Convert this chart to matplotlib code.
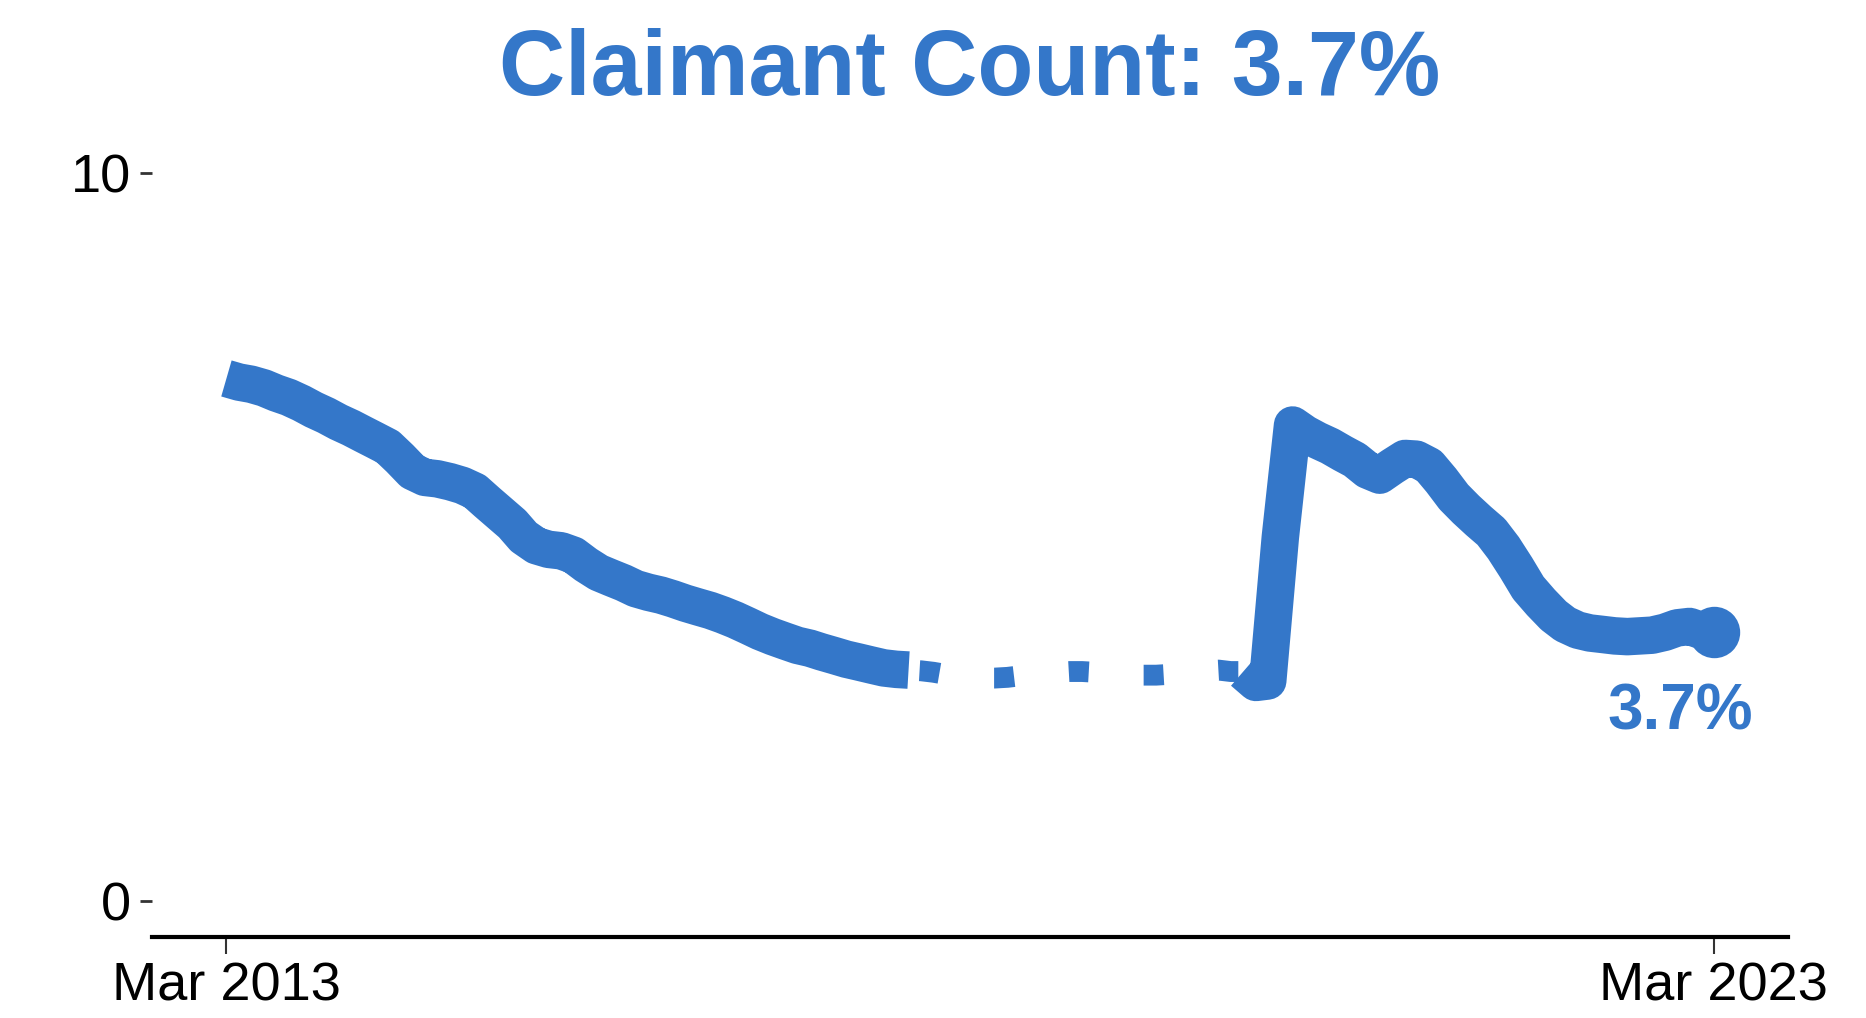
import matplotlib
matplotlib.use("Agg")
import matplotlib.pyplot as plt
import matplotlib.dates as mdates
import pandas as pd

# ---- data (claimant count rate, %) ----
start_solid1 = "2013-03-01"
values_solid1 = [7.18, 7.13, 7.10, 7.05, 6.98, 6.92, 6.84, 6.75, 6.67, 6.58,
                 6.50, 6.41, 6.33, 6.24, 6.08, 5.90, 5.82, 5.80, 5.76, 5.71,
                 5.63, 5.48, 5.33, 5.18, 5.00, 4.88, 4.83, 4.81, 4.75, 4.62,
                 4.51, 4.44, 4.37, 4.29, 4.24, 4.20, 4.15, 4.09, 4.04, 3.99,
                 3.93, 3.86, 3.78, 3.70, 3.63, 3.57, 3.51, 3.47, 3.42, 3.37,
                 3.32, 3.28, 3.24, 3.20, 3.18, 3.17]

start_dotted = "2017-10-01"
values_dotted = [3.17, 3.16, 3.14, 3.11, 3.09, 3.07, 3.06, 3.06, 3.07, 3.09,
                 3.11, 3.13, 3.14, 3.15, 3.15, 3.14, 3.12, 3.11, 3.10, 3.10,
                 3.10, 3.11, 3.12, 3.14, 3.16, 3.17, 3.15, 3.15]

start_solid2 = "2020-01-01"
values_solid2 = [3.15, 3.00, 3.02, 5.00, 6.54, 6.42, 6.33, 6.25, 6.15, 6.06,
                 5.92, 5.85, 5.97, 6.08, 6.07, 5.98, 5.78, 5.55, 5.38, 5.22,
                 5.07, 4.85, 4.58, 4.30, 4.10, 3.92, 3.80, 3.72, 3.68, 3.66,
                 3.64, 3.63, 3.64, 3.65, 3.69, 3.75, 3.77, 3.71, 3.70]

title_text = "Claimant Count: 3.7%"
last_label = "3.7%"
x_tick_dates = ["2013-03-01", "2023-03-01"]
x_tick_labels = ["Mar 2013", "Mar 2023"]
y_ticks = [0, 10]
y_tick_labels = ["0", "10"]

# ---- styling ----
BLUE = "#3477c9"
plt.rcParams["font.family"] = ["Liberation Sans", "DejaVu Sans"]

fig = plt.figure(figsize=(18.66, 10.18), dpi=100)
ax = fig.add_axes([0.0815, 0.0796, 0.8767, 0.7858])

d1 = pd.date_range(start_solid1, periods=len(values_solid1), freq="MS")
dd = pd.date_range(start_dotted, periods=len(values_dotted), freq="MS")
d2 = pd.date_range(start_solid2, periods=len(values_solid2), freq="MS")

LW = 27
ax.plot(dd, values_dotted, color=BLUE, lw=15,
        linestyle=(3.07, (0.96, 2.64)), dash_capstyle="butt", zorder=2)
ax.plot(d1, values_solid1, color=BLUE, lw=LW, solid_capstyle="butt",
        solid_joinstyle="round", zorder=3)
ax.plot(d2, values_solid2, color=BLUE, lw=LW, solid_capstyle="butt",
        solid_joinstyle="round", zorder=3)
ax.plot([d2[-1]], [values_solid2[-1]], "o", color=BLUE, markersize=37,
        markeredgewidth=0, zorder=4)

ax.annotate(last_label, xy=(d2[-1], values_solid2[-1]), xytext=(-24, -58),
            textcoords="offset points", ha="center", va="center",
            fontsize=46, fontweight="bold", color=BLUE)

# axes range with 5% expansion
t0 = mdates.date2num(pd.Timestamp(x_tick_dates[0]))
t1 = mdates.date2num(pd.Timestamp(x_tick_dates[1]))
span = t1 - t0
ax.set_xlim(t0 - 0.05 * span, t1 + 0.05 * span)
ax.set_ylim(-0.5, 10.5)

ax.set_xticks([mdates.date2num(pd.Timestamp(s)) for s in x_tick_dates])
ax.set_xticklabels(x_tick_labels)
ax.set_yticks(y_ticks)
ax.set_yticklabels(y_tick_labels)

for s in ["top", "right", "left"]:
    ax.spines[s].set_visible(False)
ax.spines["bottom"].set_linewidth(3)
ax.spines["bottom"].set_color("black")

ax.tick_params(axis="x", length=12, width=1.5, color="#333333",
               labelsize=39, pad=6, labelcolor="black")
ax.tick_params(axis="y", length=9, width=2, color="#333333",
               labelsize=39, pad=6, labelcolor="black")

ax.set_title(title_text, fontsize=66, fontweight="bold", color=BLUE, pad=30)

fig.savefig("out.png", dpi=100, facecolor="white")
